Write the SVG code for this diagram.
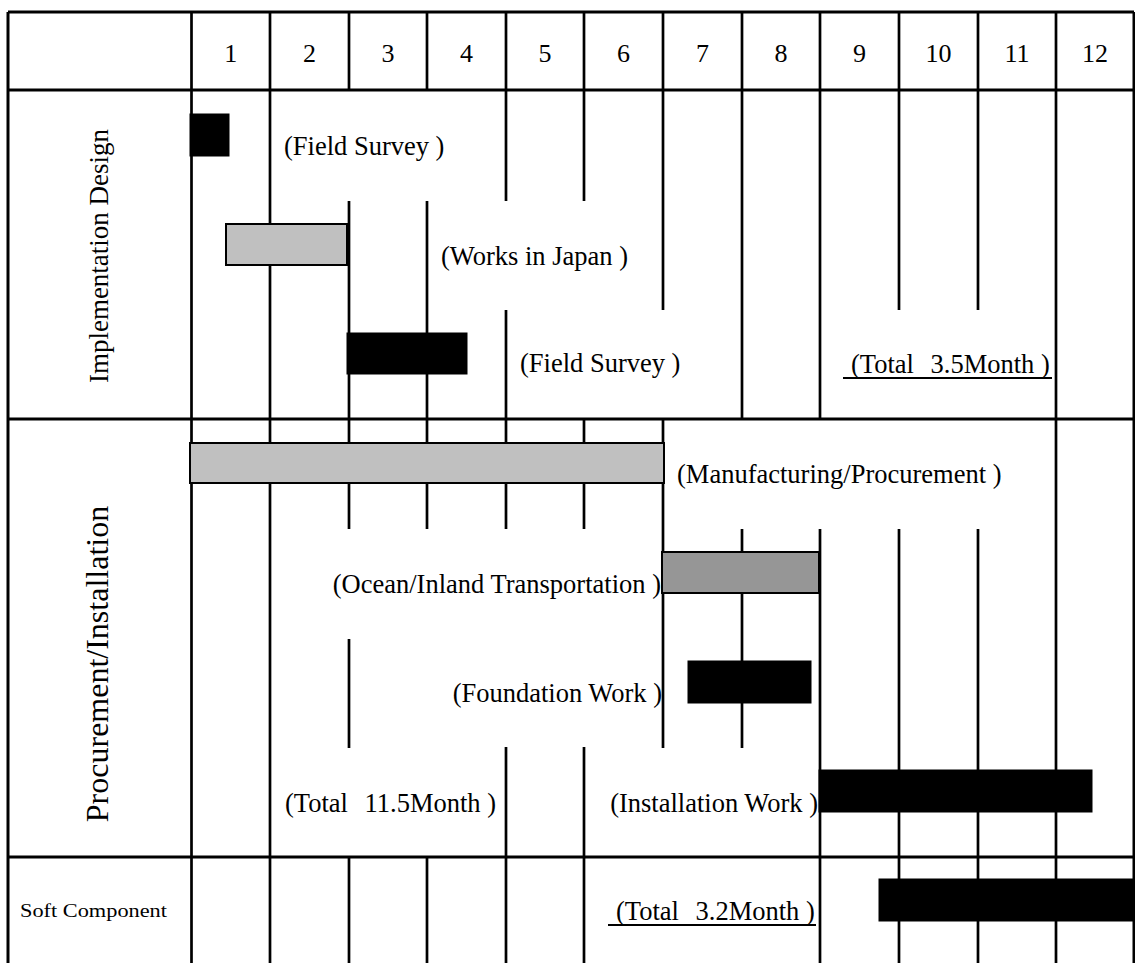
<svg xmlns="http://www.w3.org/2000/svg" width="1135" height="963" viewBox="0 0 1135 963">
<style>
.g{stroke:#000;stroke-width:2.7;fill:none}
.b{stroke:#000;stroke-width:3;fill:none}
.t{font-family:"Liberation Serif","Times New Roman",serif;font-size:26.5px;fill:#000}
.h{font-family:"Liberation Serif","Times New Roman",serif;font-size:26px;fill:#000;text-anchor:middle}
.blk{fill:#000;stroke:#000;stroke-width:1}
.lg{fill:#c0c0c0;stroke:#000;stroke-width:2}
.dg{fill:#969696;stroke:#000;stroke-width:2}
.u{stroke:#000;stroke-width:2}
</style>
<rect width="1135" height="963" fill="#fff"/>
<g id="grid">
<path class="b" d="M8 12V963M1134 12V963M8 12H1134M8 90H1134M8 419H1134M8 857H1134"/>
<path class="g" d="M191.5 12V963M270 12V963
M349 12V90M349 201V529M349 639V748M349 857V963
M427 12V90M427 201V529M427 857V963
M506 12V201M506 310V529M506 747V963
M584 12V201M584 419V529M584 747V963
M663 12V310M663 419V748
M742 12V419M742 529V748
M820 12V419M820 529V963
M899 12V310M899 529V963
M978 12V310M978 529V963
M1056 12V963"/>
</g>
<g id="header">
<text class="h" x="230.7" y="62">1</text>
<text class="h" x="309.5" y="62">2</text>
<text class="h" x="388" y="62">3</text>
<text class="h" x="466.5" y="62">4</text>
<text class="h" x="545" y="62">5</text>
<text class="h" x="623.5" y="62">6</text>
<text class="h" x="702.5" y="62">7</text>
<text class="h" x="781" y="62">8</text>
<text class="h" x="859.5" y="62">9</text>
<text class="h" x="938.5" y="62">10</text>
<text class="h" x="1017" y="62">11</text>
<text class="h" x="1095" y="62">12</text>
</g>
<g id="label-implementation">
<text class="t" transform="translate(108 256) rotate(-90)" text-anchor="middle" style="font-size:27px">Implementation Design</text>
</g>
<g id="label-procurement">
<text class="t" transform="translate(108 664) rotate(-90)" text-anchor="middle" style="font-size:32px">Procurement/Installation</text>
</g>
<g id="label-soft">
<text class="t" x="20" y="917" textLength="147" lengthAdjust="spacingAndGlyphs" style="font-size:18px">Soft Component</text>
</g>
<g id="field-survey-1">
<rect class="blk" x="190" y="114" width="39" height="42"/>
<text class="t" x="284" y="155">(Field Survey )</text>
</g>
<g id="works-in-japan">
<rect class="lg" x="226" y="224" width="121" height="41"/>
<text class="t" x="441" y="265">(Works in Japan )</text>
</g>
<g id="field-survey-2">
<rect class="blk" x="347" y="333" width="120" height="41"/>
<text class="t" x="520" y="372">(Field Survey )</text>
</g>
<g id="total-design">
<text class="t" x="851" y="373">(Total <tspan dx="10">3.5Month )</tspan></text>
<line class="u" x1="843" y1="378" x2="1052" y2="378"/>
</g>
<g id="manufacturing">
<rect class="lg" x="190" y="443" width="474" height="40"/>
<text class="t" x="677" y="483">(Manufacturing/Procurement )</text>
</g>
<g id="transportation">
<rect class="dg" x="662" y="552" width="157" height="41"/>
<text class="t" x="661" y="593" text-anchor="end">(Ocean/Inland Transportation )</text>
</g>
<g id="foundation">
<rect class="blk" x="688" y="661" width="123" height="42"/>
<text class="t" x="662" y="702" text-anchor="end">(Foundation Work )</text>
</g>
<g id="installation">
<rect class="blk" x="819" y="770" width="273" height="42"/>
<text class="t" x="818" y="812" text-anchor="end">(Installation Work )</text>
</g>
<g id="total-procurement">
<text class="t" x="285" y="812">(Total <tspan dx="10">11.5Month )</tspan></text>
</g>
<g id="soft-component">
<rect class="blk" x="879" y="879" width="260" height="42"/>
<text class="t" x="616" y="920">(Total <tspan dx="10">3.2Month )</tspan></text>
<line class="u" x1="608" y1="925" x2="816" y2="925"/>
</g>
</svg>
